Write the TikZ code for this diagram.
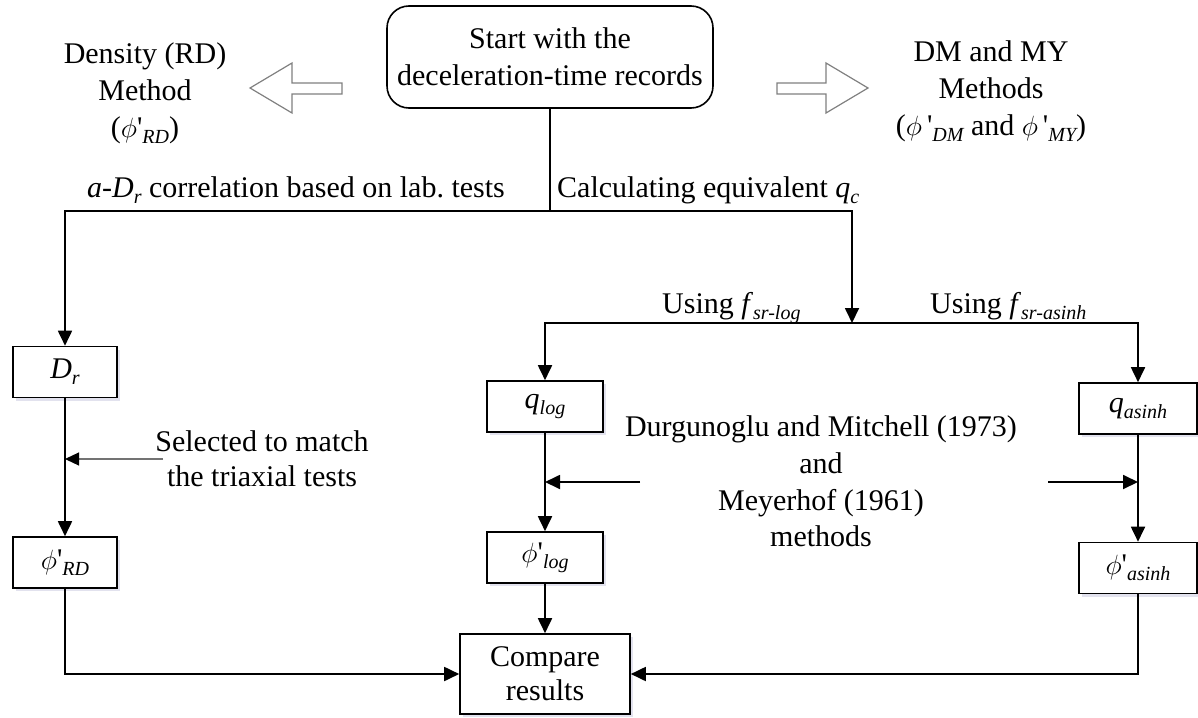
\documentclass[tikz,border=0pt]{standalone}
\usepackage{fontspec}
\setmainfont{Liberation Serif}
\usetikzlibrary{arrows.meta,shadows}
\frenchspacing
\newcommand\subx[1]{\raisebox{-6pt}{\fontsize{20}{20}\selectfont\itshape #1}}
\newcommand\phix{\scalebox{1.12}{\(\phi\)}}
\newcommand\qs{\textquotesingle}
\tikzset{
  txt/.style={font=\fontsize{30}{37}\selectfont, inner sep=0pt, align=center},
  box/.style={txt, draw, line width=1.6pt, fill=white, minimum height=51pt,
    drop shadow={shadow xshift=3pt, shadow yshift=-3pt, fill=blue!25!gray, opacity=0.18}},
  ln/.style={line width=1.8pt},
  arr/.style={ln, -{Triangle[length=15pt,width=14pt]}},
  garr/.style={line width=1.2pt, draw=black!55, -{Triangle[length=14pt,width=13pt,color=black]}},
  hollow/.style={draw=black!50, line width=1.2pt, fill=white, line join=miter},
}
\begin{document}
\begin{tikzpicture}[x=1pt,y=-1pt]
\useasboundingbox (0,0) rectangle (1198,717);

% top
\node[txt, draw, line width=1.6pt, rounded corners=22pt, minimum width=326pt, minimum height=102pt]
  (start) at (550,57) {Start with the\\deceleration-time records};
\node[txt] (rdtext) at (145,93) {Density (RD)\\Method\\(\phix\qs\subx{RD})};
\node[txt] (dmtext) at (991,91) {DM and MY\\Methods\\(\phix\,\qs\subx{DM} and \phix\,\qs\subx{MY})};

% hollow arrows
\draw[hollow] (342,83) -- (292,83) -- (292,63) -- (250,88) -- (292,113) -- (292,94) -- (342,94) -- cycle;
\draw[hollow] (777,83) -- (826,83) -- (826,63) -- (868,88) -- (826,113) -- (826,94) -- (777,94) -- cycle;

% boxes
\node[box, minimum width=104pt] (Dr) at (65,372) {\textit{D}\subx{r}};
\node[box, minimum width=116pt] (qlog) at (545,406.5) {\textit{q}\subx{log}};
\node[box, minimum width=118pt] (qasinh) at (1138,408.5) {\textit{q}\subx{asinh}};
\node[box, minimum width=104pt] (phiRD) at (65,562.5) {\phix\qs\subx{RD}};
\node[box, minimum width=116pt] (philog) at (545,557.5) {\phix\qs\subx{log}};
\node[box, minimum width=118pt] (phiasinh) at (1138,568) {\phix\qs\subx{asinh}};
\node[box, minimum width=170pt, minimum height=80pt, font=\fontsize{30}{34}\selectfont] (cmp) at (545,674) {Compare\\results};

% labels
\node[txt, anchor=base east] (lblA) at (505,197) {\textit{a}-\textit{D}\subx{r} correlation based on lab. tests};
\node[txt, anchor=base west] (lblB) at (557,197) {Calculating equivalent \textit{q}\subx{c}};
\node[txt, anchor=base west] (lblC) at (662,313) {Using \textit{f}\subx{sr-log}};
\node[txt, anchor=base west] (lblD) at (930,313) {Using \textit{f}\subx{sr-asinh}};
\node[txt, font=\fontsize{30}{35}\selectfont] (sel) at (262,459) {Selected to match\\the triaxial tests};
\node[txt, font=\fontsize{30}{36.7}\selectfont] (dmm) at (821,481.5) {Durgunoglu and Mitchell (1973)\\and\\Meyerhof (1961)\\methods};

% connectors
\coordinate (hl) at (551,211);
\coordinate (j2) at (852,323);
\draw[ln] (start.south) -- (start.south |- hl);
\draw[arr] (start.south |- hl) -| (Dr.north);
\draw[arr] (start.south |- hl) -| (j2);
\draw[arr] (j2) -| (qlog.north);
\draw[arr] (j2) -| (qasinh.north);
\draw[arr] (Dr) -- (phiRD);
\draw[arr] (qlog) -- (philog);
\draw[arr] (qasinh) -- (phiasinh);
\draw[arr] (philog) -- (cmp);
\draw[arr] (phiRD.south) |- (cmp.west);
\draw[arr] (phiasinh.south) |- (cmp.east);

\coordinate (selA) at (163,459);
\draw[garr] (selA) -- (selA -| Dr.south);
\coordinate (dmL) at (640,482);
\coordinate (dmR) at (1048,482);
\draw[arr] (dmL) -- (dmL -| qlog.south);
\draw[arr] (dmR) -- (dmR -| qasinh.south);
\end{tikzpicture}
\end{document}
